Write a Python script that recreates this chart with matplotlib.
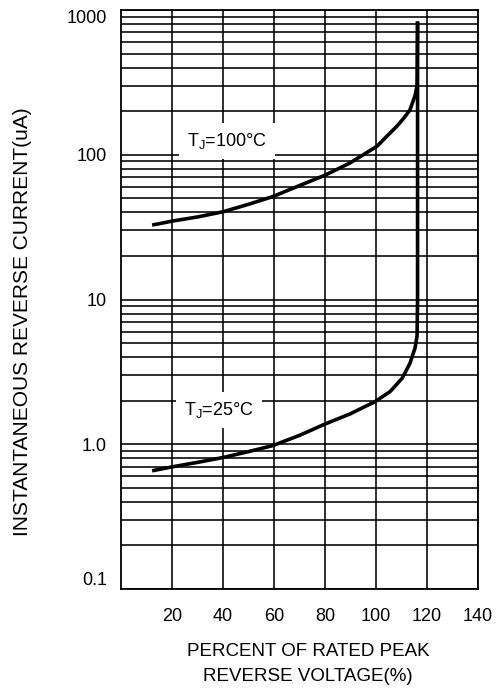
import matplotlib
matplotlib.use('Agg')
import matplotlib.pyplot as plt
from matplotlib.ticker import FixedLocator, NullFormatter

plt.rcParams['font.family'] = ['Liberation Sans', 'DejaVu Sans']

# percent of rated peak reverse voltage vs reverse current (uA)
x_100 = [12.2, 20.4, 30, 40, 50, 59.6, 70.2, 80, 89.8, 100.4, 104, 108.2, 111, 113.3, 115.3, 116.1, 116.3]
i_100 = [32.7, 34.9, 37.2, 40.4, 45.5, 51.5, 61.5, 72.3, 87.8, 114.6, 133, 157.6, 180, 204, 256, 298, 834]

x_25 = [12.2, 20.4, 30, 40, 50, 59.6, 70.2, 80, 89.8, 99.6, 105.5, 110.2, 113.3, 115.3, 116.1, 116.3, 116.3]
i_25 = [0.656, 0.70, 0.75, 0.81, 0.89, 0.98, 1.156, 1.38, 1.62, 1.97, 2.31, 2.85, 3.62, 4.62, 5.6, 10, 834]

x_ticks = [20, 40, 60, 80, 100, 120, 140]
y_ticks = [0.1, 1.0, 10, 100, 1000]
y_labels = ['0.1', '1.0', '10', '100', '1000']

fig = plt.figure(figsize=(5.01, 6.89), dpi=100)
ax = fig.add_axes([0.2415, 0.1451, 0.7126, 0.8403])

ax.set_yscale('log')
ax.set_xlim(0, 140)
ax.set_ylim(0.1, 1000)

ax.xaxis.set_major_locator(FixedLocator(x_ticks))
ax.set_yticks(y_ticks)
ax.set_yticklabels(y_labels)
ax.yaxis.set_minor_formatter(NullFormatter())

ax.grid(True, which='both', axis='y', color='black', linewidth=1.15)
ax.grid(True, which='major', axis='x', color='black', linewidth=1.15)
for s in ax.spines.values():
    s.set_linewidth(1.3)

ax.tick_params(which='both', length=0, labelsize=13)
ax.tick_params(axis='x', pad=14)
ax.tick_params(axis='y', pad=10)
labs = ax.get_yticklabels()
labs[0].set_verticalalignment('bottom')
labs[-1].set_verticalalignment('top')

ax.plot(x_100, i_100, color='black', linewidth=2.6, solid_capstyle='butt', zorder=3)
ax.plot(x_25, i_25, color='black', linewidth=2.6, solid_capstyle='butt', zorder=3)

box = dict(boxstyle='square,pad=0.45', facecolor='white', edgecolor='none')
ax.text(41.6, 124, r'T$\mathregular{_J}$=100°C', fontsize=13, ha='center', va='center', bbox=box, zorder=4)
ax.text(38.5, 1.72, r'T$\mathregular{_J}$=25°C', fontsize=13, ha='center', va='center', bbox=box, zorder=4)

fig.text(0.044, 0.533, 'INSTANTANEOUS REVERSE CURRENT(uA)', rotation=90, fontsize=15,
         ha='center', va='center')
fig.text(308 / 501, 1 - 664 / 689, 'PERCENT OF RATED PEAK\nREVERSE VOLTAGE(%)', fontsize=13.5,
         ha='center', va='center', linespacing=1.55)

fig.savefig('out.png', dpi=100)
